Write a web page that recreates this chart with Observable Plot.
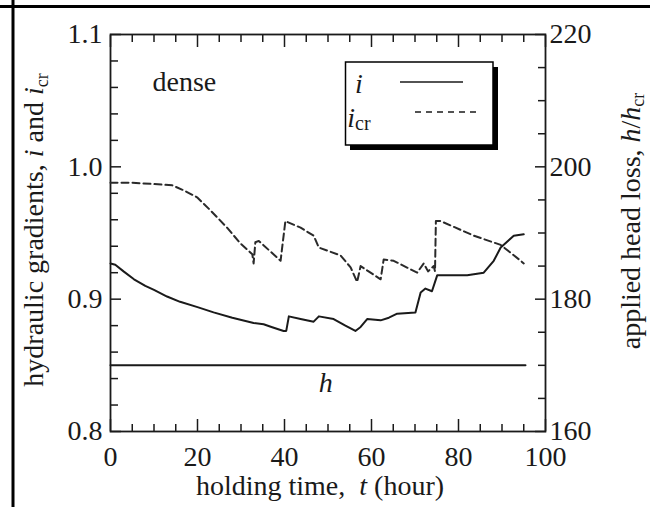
<!DOCTYPE html>
<html><head><meta charset="utf-8">
<script src="https://cdn.jsdelivr.net/npm/d3@7"></script>
<script src="https://cdn.jsdelivr.net/npm/@observablehq/plot@0.6"></script>
<style>body{margin:0;background:#fff;} svg{display:block}</style>
</head><body><div id="chart"></div>
<script>
// ---- data ----
const tI   = [0, 1.1, 3, 5.4, 8, 10, 13, 16, 20, 23.7, 28, 32.9, 35.2, 37, 39.8, 40.4, 41, 43.7, 46.7, 47.9, 51.3, 54, 56.3, 57.5, 59, 62.1, 64, 65.9, 70.1, 71.3, 72.4, 73.9, 75.1, 82, 85.8, 88.1, 89.7, 92.7, 95];
const iVal = [0.927, 0.926, 0.921, 0.915, 0.910, 0.907, 0.902, 0.898, 0.894, 0.890, 0.886, 0.882, 0.881, 0.879, 0.876, 0.876, 0.887, 0.885, 0.883, 0.887, 0.885, 0.880, 0.876, 0.879, 0.885, 0.884, 0.886, 0.889, 0.890, 0.905, 0.908, 0.906, 0.918, 0.918, 0.920, 0.929, 0.939, 0.948, 0.949];
const tCr   = [0, 5, 10, 14.2, 17, 19.9, 23, 26.8, 29.9, 32.6, 32.9, 33.3, 34.1, 39.1, 40.2, 43.7, 46.7, 47.9, 52.9, 55.2, 56.7, 57.5, 62.1, 62.8, 65.1, 70.5, 72, 73, 74.3, 74.6, 74.8, 75.9, 83.5, 89.7, 94.3, 95];
const crVal = [0.988, 0.988, 0.987, 0.986, 0.982, 0.977, 0.967, 0.954, 0.942, 0.934, 0.927, 0.943, 0.944, 0.929, 0.959, 0.954, 0.948, 0.939, 0.933, 0.924, 0.913, 0.925, 0.915, 0.930, 0.929, 0.920, 0.927, 0.921, 0.925, 0.921, 0.959, 0.959, 0.948, 0.941, 0.929, 0.927];
const tH   = [0, 95.4];
const hVal = [170, 170];          // applied head loss h/h_cr (right axis)

const xMajor = [0, 20, 40, 60, 80, 100];
const xMinor = [5, 10, 15, 25, 30, 35, 45, 50, 55, 65, 70, 75, 85, 90, 95];
const yMajor = [0.8, 0.9, 1.0, 1.1];
const yMinor = [0.82, 0.84, 0.86, 0.88, 0.92, 0.94, 0.96, 0.98, 1.02, 1.04, 1.06, 1.08];
const rMajor = [160, 180, 200, 220];
const rMinor = [165, 170, 175, 185, 190, 195, 205, 210, 215];

// ---- chart ----
const F = "'Liberation Serif', 'Times New Roman', serif";
const FS = 28;
const INK = "#1a1a1a";
const toY = h => 0.8 + (h - 160) * 0.3 / 60;

const iData  = tI.map((t, k) => ({t, v: iVal[k]}));
const crData = tCr.map((t, k) => ({t, v: crVal[k]}));
const hData  = tH.map((t, k) => ({t, h: hVal[k]}));

const chart = Plot.plot({
  width: 650, height: 507,
  marginLeft: 110, marginRight: 105, marginTop: 34, marginBottom: 76,
  style: {fontFamily: F, fontSize: FS + "px", color: INK, background: "white", overflow: "visible"},
  x: {domain: [0, 100]},
  y: {domain: [0.8, 1.1]},
  marks: [
    // bottom axis
    Plot.axisX(xMinor, {anchor: "bottom", tickSize: -7, fill: "none", label: null, strokeWidth: 1.5}),
    Plot.axisX(xMajor, {anchor: "bottom", tickSize: -12, fill: "none", label: null, strokeWidth: 1.5}),
    Plot.axisX(xMajor, {anchor: "bottom", tickSize: 0, tickPadding: 15, label: null, fontSize: FS}),
    // top axis (ticks only)
    Plot.axisX(xMinor, {anchor: "top", tickSize: -7, fill: "none", label: null, strokeWidth: 1.5}),
    Plot.axisX(xMajor, {anchor: "top", tickSize: -12, fill: "none", label: null, strokeWidth: 1.5}),
    // left axis
    Plot.axisY(yMinor, {anchor: "left", tickSize: -8, fill: "none", label: null, strokeWidth: 1.5}),
    Plot.axisY(yMajor, {anchor: "left", tickSize: -11, fill: "none", label: null, strokeWidth: 1.5}),
    Plot.axisY(yMajor, {anchor: "left", tickSize: 0, tickPadding: 8, label: null, tickFormat: d3.format(".1f"), fontSize: FS}),
    // right axis (h/h_cr)
    Plot.axisY(rMinor.map(toY), {anchor: "right", tickSize: -8, fill: "none", label: null, strokeWidth: 1.5}),
    Plot.axisY(rMajor.map(toY), {anchor: "right", tickSize: -11, fill: "none", label: null, strokeWidth: 1.5}),
    Plot.axisY(rMajor.map(toY), {anchor: "right", tickSize: 0, tickPadding: 4, label: null, fontSize: FS,
      tickFormat: v => String(Math.round(160 + (v - 0.8) * 200))}),
    Plot.frame({stroke: INK, strokeWidth: 1.8}),
    // series
    Plot.line(crData, {x: "t", y: "v", stroke: "#2a2a2a", strokeWidth: 2, strokeDasharray: "7,4"}),
    Plot.line(iData, {x: "t", y: "v", stroke: INK, strokeWidth: 2}),
    Plot.line(hData, {x: "t", y: d => toY(d.h), stroke: INK, strokeWidth: 2}),
    Plot.text(hData.slice(0, 1), {x: () => 49.5, y: d => toY(d.h), text: () => "h", dy: 18,
      fontStyle: "italic", fontSize: FS, fill: INK}),
    Plot.text(["dense"], {frameAnchor: "top-left", dx: 42, dy: 37, textAnchor: "start", fontSize: FS, fill: INK})
  ]
});
document.getElementById("chart").appendChild(chart);

// ---- annotations (axis titles, legend, outer border) ----
const svg = d3.select(chart);
const g = svg.append("g").attr("font-family", F).attr("fill", INK);

// outer border (top & left)
g.append("line").attr("x1", 0).attr("x2", 650).attr("y1", 6.5).attr("y2", 6.5).attr("stroke", "#000").attr("stroke-width", 3);
g.append("line").attr("x1", 13).attr("x2", 13).attr("y1", 0).attr("y2", 507).attr("stroke", "#000").attr("stroke-width", 3);

function rich(parent, parts, attrs, subSize = 18, subDy = 5) {
  const t = parent.append("text");
  Object.entries(attrs).forEach(([k, v]) => t.attr(k, v));
  parts.forEach(p => {
    const s = t.append("tspan").text(p.s);
    if (p.it) s.attr("font-style", "italic");
    if (p.sub) s.attr("font-size", subSize + "px").attr("dy", subDy);
  });
  return t;
}

// x title
rich(g, [{s: "holding time,\u00a0\u00a0"}, {s: "t", it: 1}, {s: " (hour)"}],
  {x: 320, y: 495, "text-anchor": "middle", "font-size": FS + "px"});
// left title
rich(g, [{s: "hydraulic gradients, "}, {s: "i", it: 1}, {s: " and "}, {s: "i", it: 1}, {s: "cr", sub: 1}],
  {transform: "translate(43,230) rotate(-90)", "text-anchor": "middle", "font-size": FS + "px"});
// right title
rich(g, [{s: "applied head loss, "}, {s: "h", it: 1}, {s: "/"}, {s: "h", it: 1}, {s: "cr", sub: 1}],
  {transform: "translate(640,221) rotate(-90)", "text-anchor": "middle", "font-size": FS + "px"}, 18, 4);

// legend
g.append("rect").attr("x", 350).attr("y", 67).attr("width", 148).attr("height", 83).attr("fill", "#000");
g.append("rect").attr("x", 345.5).attr("y", 62).attr("width", 147.5).attr("height", 83)
  .attr("fill", "#fff").attr("stroke", "#000").attr("stroke-width", 1.5);
rich(g, [{s: "i", it: 1}], {x: 359, y: 93, "font-size": FS + "px"});
rich(g, [{s: "i", it: 1}, {s: "cr", sub: 1}], {x: 359, y: 127, "font-size": FS + "px"}, 20, 3);
g.append("line").attr("x1", 400).attr("x2", 463).attr("y1", 82).attr("y2", 82).attr("stroke", INK).attr("stroke-width", 1.5);
g.append("line").attr("x1", 415).attr("x2", 481).attr("y1", 112).attr("y2", 112).attr("stroke", INK).attr("stroke-width", 1.5).attr("stroke-dasharray", "6,5");
</script>
</body></html>
